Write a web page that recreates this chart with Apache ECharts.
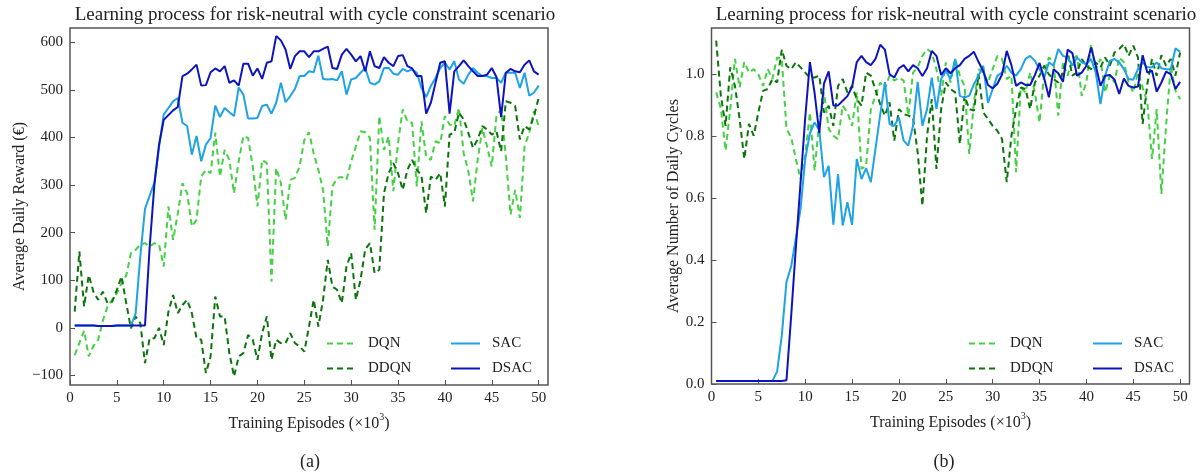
<!DOCTYPE html>
<html>
<head>
<meta charset="utf-8">
<title>Learning process for risk-neutral with cycle constraint scenario</title>
<script src="https://cdn.jsdelivr.net/npm/echarts@6.0.0/dist/echarts.min.js"></script>
<style>
  html, body { margin: 0; padding: 0; background: #ffffff; }
  #chart { width: 1202px; height: 475px; }
</style>
</head>
<body>
<div id="chart"></div>
<script>
// Training episodes (x 10^3)
const episodes = [
  0.5, 1, 1.5, 2, 2.5, 3, 3.5, 4, 4.5, 5,
  5.5, 6, 6.5, 7, 7.5, 8, 8.5, 9, 9.5, 10,
  10.5, 11, 11.5, 12, 12.5, 13, 13.5, 14, 14.5, 15,
  15.5, 16, 16.5, 17, 17.5, 18, 18.5, 19, 19.5, 20,
  20.5, 21, 21.5, 22, 22.5, 23, 23.5, 24, 24.5, 25,
  25.5, 26, 26.5, 27, 27.5, 28, 28.5, 29, 29.5, 30,
  30.5, 31, 31.5, 32, 32.5, 33, 33.5, 34, 34.5, 35,
  35.5, 36, 36.5, 37, 37.5, 38, 38.5, 39, 39.5, 40,
  40.5, 41, 41.5, 42, 42.5, 43, 43.5, 44, 44.5, 45,
  45.5, 46, 46.5, 47, 47.5, 48, 48.5, 49, 49.5, 50
];

// (a) Average daily reward (EUR)
const rewardDQN = [
  -57, -32, -6, -60, -38, -25, 15, 45, 59, 73,
  94, 110, 157, 164, 175, 178, 171, 178, 175, 129,
  255, 185, 240, 304, 283, 213, 227, 318, 332, 325,
  410, 318, 374, 353, 283, 350, 403, 399, 339, 255,
  353, 346, 97, 336, 304, 227, 311, 315, 339, 395,
  411, 367, 332, 290, 171, 297, 315, 317, 311, 350,
  381, 413, 411, 399, 206, 445, 374, 402, 287, 388,
  459, 434, 431, 297, 434, 360, 353, 392, 388, 445,
  427, 424, 462, 367, 330, 266, 353, 420, 381, 339,
  445, 459, 360, 238, 290, 231, 381, 410, 455, 424
];
const rewardDDQN = [
  34, 161, 45, 111, 76, 59, 76, 52, 55, 80,
  108, 52, -1, 24, 10, -74, -22, -22, 0, -36,
  34, 69, 31, 48, 59, 31, -22, -25, -95, -60,
  66, 24, 24, -53, -102, -60, -53, -15, -25, -67,
  -11, 24, -67, -25, -32, -32, -11, -32, -39, -50,
  3, 59, 3, 59, 143, 87, 80, 52, 129, 157,
  59, 101, 165, 178, 115, 122, 283, 325, 346, 325,
  290, 332, 353, 332, 320, 241, 318, 311, 325, 255,
  406, 410, 452, 438, 410, 378, 396, 424, 417, 406,
  413, 371, 476, 473, 466, 396, 424, 417, 445, 483
];
const rewardSAC = [
  5, 5, 5, 5, 5, 4, 4, 4, 4, 5,
  5, 5, 5, 30, 150, 250, 278, 305, 380, 448,
  462, 476, 483, 431, 424, 364, 403, 350, 385, 399,
  467, 443, 462, 453, 445, 505, 490, 440, 440, 441,
  466, 469, 450, 473, 515, 474, 487, 502, 529, 529,
  539, 537, 572, 523, 522, 523, 520, 539, 490, 522,
  525, 536, 546, 515, 511, 518, 546, 546, 534, 532,
  544, 539, 543, 536, 504, 485, 508, 525, 546, 557,
  543, 560, 522, 513, 532, 546, 536, 529, 529, 525,
  525, 515, 536, 536, 536, 504, 536, 488, 494, 509
];
const rewardDSAC = [
  5, 5, 5, 5, 5, 4, 4, 4, 4, 5,
  5, 5, 5, 5, 5, 5, 170, 300, 385, 437,
  447, 457, 464, 529, 534, 543, 553, 509, 510, 537,
  545, 539, 550, 515, 520, 509, 555, 555, 530, 545,
  523, 557, 560, 613, 604, 585, 544, 571, 581, 581,
  569, 581, 581, 586, 591, 546, 544, 574, 586, 574,
  560, 571, 539, 581, 550, 546, 569, 557, 550, 571,
  573, 550, 545, 529, 529, 450, 473, 515, 557, 560,
  450, 539, 550, 562, 550, 539, 529, 529, 532, 546,
  527, 443, 536, 544, 539, 537, 553, 562, 539, 532
];

// (b) Average number of daily cycles
const cyclesDQN = [
  0.942, 0.89, 0.754, 0.888, 1.05, 0.958, 1.04, 1.006, 1.017, 1.0,
  0.963, 1.017, 0.985, 1.055, 1.05, 0.824, 0.797, 0.727, 0.662, 0.737,
  0.877, 0.689, 0.85, 0.942, 0.824, 0.802, 0.791, 0.899, 0.877, 0.834,
  0.942, 0.695, 0.705, 0.888, 0.931, 0.974, 0.953, 0.996, 0.98, 0.99,
  0.98, 0.867, 1.006, 1.023, 1.06, 1.082, 1.071, 1.017, 0.931, 1.039,
  0.974, 1.05, 0.996, 0.963, 0.743, 0.91, 1.017, 1.006, 0.974, 1.017,
  1.06, 1.05, 0.985, 0.996, 0.684, 0.958, 0.942, 1.006, 0.942, 0.845,
  1.006, 1.055, 1.039, 0.867, 1.039, 0.996, 1.05, 1.06, 0.931, 0.974,
  1.098, 1.017, 1.05, 0.942, 0.996, 0.974, 1.055, 1.039, 0.974, 0.942,
  1.006, 0.958, 0.91, 0.727, 0.888, 0.614, 0.834, 1.028, 0.947, 0.92
];
const cyclesDDQN = [
  1.109, 0.931, 0.834, 1.023, 0.963, 0.856, 0.727, 0.84, 0.802, 0.877,
  0.947, 0.953, 0.985, 0.974, 1.08, 1.028, 1.017, 1.039, 1.023, 1.006,
  0.99, 0.99, 0.996, 0.877, 0.899, 0.834, 0.963, 0.985, 0.942, 0.963,
  0.92, 0.899, 1.006, 0.996, 0.95, 0.904, 0.867, 0.91, 0.786, 0.888,
  0.872, 0.867, 0.86, 0.748, 0.576, 0.802, 0.92, 0.695, 0.888, 0.974,
  0.953, 0.942, 0.775, 0.931, 0.888, 0.883, 1.0, 0.877, 0.856, 0.834,
  0.818, 0.791, 0.652, 0.802, 0.888, 0.958, 0.953, 0.888, 0.974, 0.996,
  1.028, 1.0, 0.985, 0.974, 1.006, 1.071, 0.996, 1.006, 1.05, 1.028,
  1.017, 1.039, 1.023, 1.055, 1.028, 1.071, 1.082, 1.098, 1.06, 1.093,
  1.055, 0.84, 0.969, 1.05, 0.996, 1.062, 1.028, 1.05, 0.996, 1.071
];
const cyclesSAC = [
  0.01, 0.01, 0.01, 0.01, 0.01, 0.01, 0.01, 0.01, 0.01, 0.01,
  0.01, 0.01, 0.01, 0.04, 0.157, 0.33, 0.38, 0.47, 0.566, 0.727,
  0.81, 0.845, 0.82, 0.668, 0.705, 0.515, 0.678, 0.512, 0.587, 0.514,
  0.727, 0.662, 0.697, 0.652, 0.76, 0.87, 0.975, 0.84, 0.834, 0.861,
  0.786, 0.77, 0.834, 0.976, 0.834, 0.888, 0.99, 0.888, 0.985, 1.012,
  0.985, 1.05, 0.93, 0.926, 0.931, 0.969, 0.996, 1.028, 0.908, 0.953,
  0.996, 1.006, 1.028, 1.006, 0.996, 1.017, 1.05, 1.06, 1.044, 1.017,
  0.99, 1.039, 1.028, 1.082, 1.06, 1.055, 1.028, 1.055, 1.039, 1.033,
  1.05, 1.006, 0.904, 0.996, 1.044, 1.05, 1.039, 1.017, 0.985, 0.983,
  1.017, 1.039, 1.023, 1.023, 1.039, 1.02, 1.017, 1.017, 1.084, 1.073
];
const cyclesDSAC = [
  0.01, 0.01, 0.01, 0.01, 0.01, 0.01, 0.01, 0.01, 0.01, 0.01,
  0.01, 0.01, 0.01, 0.01, 0.01, 0.012, 0.22, 0.44, 0.65, 0.86,
  1.04, 0.94, 0.81, 0.97, 1.01, 0.90, 0.90, 0.915, 0.93, 0.96,
  1.04, 1.06, 1.04, 1.03, 1.05, 1.096, 1.08, 1.00, 0.99, 1.02,
  1.03, 1.01, 1.03, 1.02, 0.995, 1.02, 1.076, 1.06, 0.998, 1.02,
  1.004, 1.02, 1.03, 1.05, 1.06, 1.073, 1.04, 1.01, 0.966, 0.955,
  0.97, 1.00, 1.076, 1.03, 0.963, 0.974, 0.966, 0.966, 0.998, 1.037,
  0.987, 0.926, 1.017, 1.004, 0.976, 1.08, 1.069, 0.996, 1.006, 1.028,
  1.087, 1.028, 0.963, 0.996, 0.998, 0.983, 0.937, 0.987, 0.963, 0.958,
  0.961, 1.062, 1.006, 1.012, 0.944, 0.974, 1.009, 1.001, 0.953, 0.976
];

// Tick labels
const xTicks = [0, 5, 10, 15, 20, 25, 30, 35, 40, 45, 50];
const rewardTicks = [-100, 0, 100, 200, 300, 400, 500, 600];
const cycleTicks = [0, 0.2, 0.4, 0.6, 0.8, 1.0];

const titleText = 'Learning process for risk-neutral with cycle constraint scenario';
const rewardAxisName = 'Average Daily Reward (€)';
const cycleAxisName = 'Average Number of Daily Cycles';
const panelTags = ['(a)', '(b)'];

const FONT = '"Liberation Serif", "Times New Roman", serif';
const INK = '#222';
const FRAME = '#555';

const lineColors = { DQN: '#45d045', DDQN: '#0b740b', SAC: '#1ea2e8', DSAC: '#0c14c0' };
const dashed = { DQN: true, DDQN: true, SAC: false, DSAC: false };

function pairs(values) {
  return episodes.map((x, i) => [x, values[i]]);
}

function makeSeries(name, values, gridIndex) {
  return {
    name: name,
    type: 'line',
    xAxisIndex: gridIndex,
    yAxisIndex: gridIndex,
    data: pairs(values),
    symbol: 'none',
    showSymbol: false,
    animation: false,
    z: name === 'DSAC' ? 6 : name === 'SAC' ? 5 : 3,
    lineStyle: {
      width: 2,
      color: lineColors[name],
      type: dashed[name] ? [6, 4] : 'solid'
    },
    itemStyle: { color: lineColors[name] },
    emphasis: { disabled: true }
  };
}

function xAxisFor(gridIndex) {
  return {
    type: 'value',
    gridIndex: gridIndex,
    min: 0,
    max: 51,
    interval: 5,
    name: '{t|Training Episodes (×10}{s|3}{t|)}',
    nameLocation: 'middle',
    nameGap: 27,
    nameTextStyle: {
      rich: {
        t: { fontFamily: FONT, fontSize: 16, color: INK, lineHeight: 20, verticalAlign: 'bottom' },
        s: { fontFamily: FONT, fontSize: 10, color: INK, lineHeight: 20, verticalAlign: 'top' }
      }
    },
    axisLine: { show: false, onZero: false },
    splitLine: { show: false },
    axisTick: { show: true, inside: true, length: 5, customValues: xTicks, lineStyle: { color: FRAME, width: 1 } },
    axisLabel: {
      customValues: xTicks,
      margin: 6,
      fontFamily: FONT, fontSize: 15, color: INK
    }
  };
}

function yAxisFor(gridIndex, min, max, ticks, name, gap, fmt) {
  return {
    type: 'value',
    gridIndex: gridIndex,
    min: min,
    max: max,
    name: name,
    nameLocation: 'middle',
    nameGap: gap,
    nameRotate: 90,
    nameTextStyle: { fontFamily: FONT, fontSize: 16, color: INK },
    axisLine: { show: false, onZero: false },
    splitLine: { show: false },
    axisTick: { show: true, inside: true, length: 5, customValues: ticks, lineStyle: { color: FRAME, width: 1 } },
    axisLabel: {
      customValues: ticks,
      margin: 7,
      fontFamily: FONT, fontSize: 15, color: INK,
      formatter: fmt
    }
  };
}

function legendFor(names, left) {
  return {
    data: names,
    orient: 'vertical',
    left: left,
    top: 331,
    itemWidth: 29,
    itemHeight: 14,
    itemGap: 10,
    selectedMode: false,
    itemStyle: { opacity: 0 },
    textStyle: { fontFamily: FONT, fontSize: 15, color: INK, padding: [0, 0, 0, 7] }
  };
}

const chart = echarts.init(document.getElementById('chart'), null, { renderer: 'canvas' });

const option = {
  backgroundColor: '#ffffff',
  animation: false,
  title: [
    { text: titleText, left: 310, top: 1, textAlign: 'center',
      textStyle: { fontFamily: FONT, fontSize: 19, fontWeight: 'normal', color: INK } },
    { text: titleText, left: 951, top: 1, textAlign: 'center',
      textStyle: { fontFamily: FONT, fontSize: 19, fontWeight: 'normal', color: INK } }
  ],
  grid: [
    { left: 70, top: 28, width: 478, height: 357, show: true, borderColor: FRAME, borderWidth: 1.5, backgroundColor: 'transparent' },
    { left: 711.5, top: 28, width: 478, height: 356, show: true, borderColor: FRAME, borderWidth: 1.5, backgroundColor: 'transparent' }
  ],
  xAxis: [xAxisFor(0), xAxisFor(1)],
  yAxis: [
    yAxisFor(0, -120, 630, rewardTicks, rewardAxisName, 42,
      v => (v < 0 ? '\u2212' + Math.abs(v) : String(v))),
    yAxisFor(1, 0, 1.15, cycleTicks, cycleAxisName, 30,
      v => v.toFixed(1))
  ],
  legend: [
    legendFor(['DQN', 'DDQN'], 321),
    legendFor(['SAC', 'DSAC'], 445),
    legendFor(['DQN', 'DDQN'], 963),
    legendFor(['SAC', 'DSAC'], 1087)
  ],
  graphic: [
    { type: 'text', x: 310, y: 462, style: { text: panelTags[0], font: '18px ' + FONT, fill: INK, align: 'center', verticalAlign: 'middle' } },
    { type: 'text', x: 944, y: 462, style: { text: panelTags[1], font: '18px ' + FONT, fill: INK, align: 'center', verticalAlign: 'middle' } }
  ],
  series: [
    makeSeries('DQN', rewardDQN, 0),
    makeSeries('DDQN', rewardDDQN, 0),
    makeSeries('SAC', rewardSAC, 0),
    makeSeries('DSAC', rewardDSAC, 0),
    makeSeries('DQN', cyclesDQN, 1),
    makeSeries('DDQN', cyclesDDQN, 1),
    makeSeries('SAC', cyclesSAC, 1),
    makeSeries('DSAC', cyclesDSAC, 1)
  ]
};

chart.setOption(option);
</script>
</body>
</html>
